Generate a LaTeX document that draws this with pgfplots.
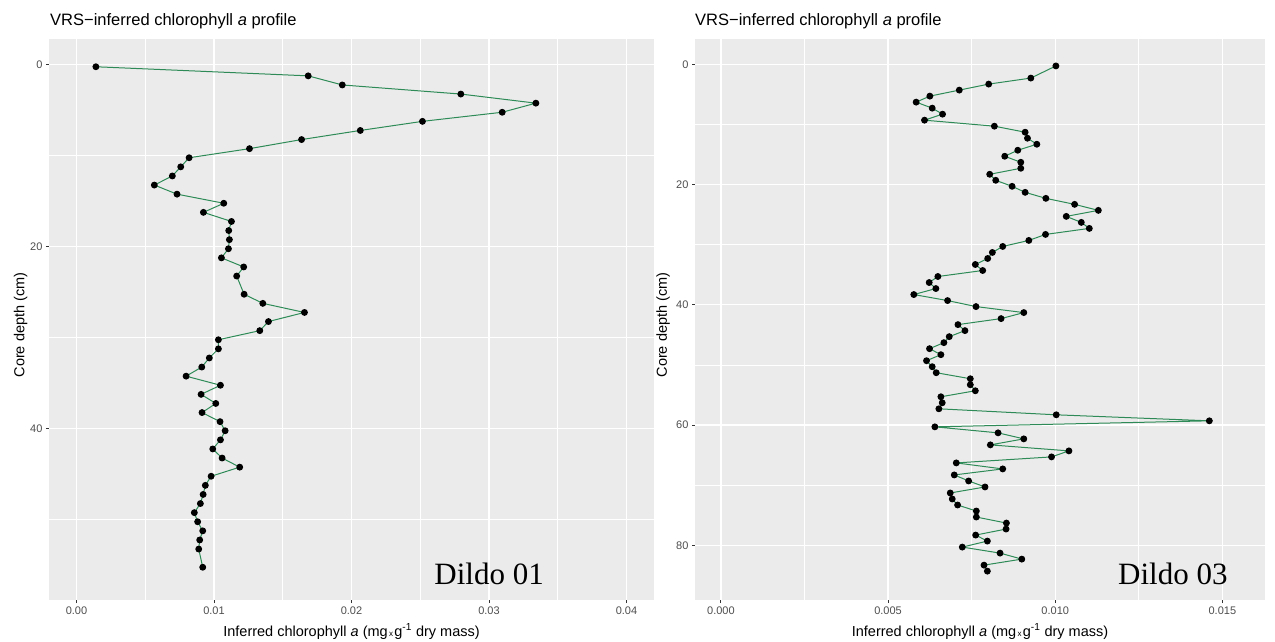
\documentclass[border=0pt]{standalone}
\usepackage{fontspec}
\setmainfont{Liberation Sans}
\newfontfamily\timesfont{Liberation Serif}
\usepackage{pgfplots}
\pgfplotsset{compat=1.18}
\usepackage{pgfplotstable}

\definecolor{ggbg}{HTML}{EBEBEB}
\definecolor{ggtext}{HTML}{4D4D4D}
\definecolor{ggtick}{HTML}{333333}
\definecolor{seagreen}{HTML}{2E8B57}

\pgfplotstableread{
x d
0.00141 0.27
0.01685 1.27
0.01933 2.27
0.02795 3.27
0.03341 4.27
0.03096 5.27
0.02516 6.27
0.02064 7.27
0.01637 8.27
0.01258 9.27
0.00819 10.27
0.00758 11.27
0.00697 12.27
0.00566 13.27
0.00731 14.27
0.01071 15.27
0.00923 16.27
0.01127 17.27
0.01107 18.27
0.01112 19.27
0.01105 20.27
0.01054 21.27
0.01216 22.27
0.01165 23.27
0.01219 25.27
0.01355 26.27
0.01658 27.27
0.01396 28.27
0.01333 29.27
0.01032 30.27
0.01032 31.27
0.00966 32.27
0.00911 33.27
0.00797 34.27
0.01047 35.27
0.00906 36.27
0.01013 37.27
0.00913 38.27
0.01044 39.27
0.01081 40.27
0.01047 41.27
0.00991 42.27
0.01059 43.27
0.01187 44.27
0.00979 45.27
0.00937 46.27
0.00921 47.27
0.00901 48.27
0.00857 49.27
0.00881 50.27
0.00918 51.27
0.00896 52.27
0.00889 53.27
0.00918 55.27
}\dildoA

\pgfplotstableread{
x d
0.01002 0.28
0.00927 2.3
0.00801 3.3
0.00713 4.3
0.00625 5.3
0.00584 6.3
0.00632 7.3
0.00663 8.3
0.00609 9.3
0.00818 10.3
0.00910 11.3
0.00917 12.3
0.00945 13.3
0.00888 14.3
0.00849 15.3
0.00897 16.3
0.00897 17.3
0.00804 18.3
0.00822 19.3
0.00871 20.3
0.00910 21.3
0.00972 22.3
0.01058 23.3
0.01129 24.3
0.01033 25.3
0.01078 26.3
0.01102 27.3
0.00971 28.3
0.00921 29.3
0.00843 30.3
0.00812 31.3
0.00798 32.3
0.00761 33.3
0.00783 34.3
0.00649 35.3
0.00623 36.3
0.00643 37.3
0.00577 38.3
0.00678 39.3
0.00763 40.3
0.00906 41.3
0.00838 42.3
0.00709 43.3
0.00730 44.3
0.00683 45.3
0.00667 46.3
0.00624 47.3
0.00658 48.3
0.00615 49.3
0.00632 50.3
0.00644 51.3
0.00746 52.3
0.00746 53.3
0.00761 54.3
0.00658 55.3
0.00662 56.3
0.00652 57.3
0.01003 58.3
0.01461 59.3
0.00640 60.3
0.00829 61.3
0.00906 62.3
0.00806 63.3
0.01041 64.3
0.00989 65.3
0.00704 66.3
0.00843 67.3
0.00698 68.3
0.00741 69.3
0.00790 70.3
0.00686 71.3
0.00692 72.3
0.00708 73.3
0.00764 74.3
0.00764 75.3
0.00854 76.3
0.00853 77.3
0.00762 78.3
0.00797 79.3
0.00722 80.3
0.00835 81.3
0.00900 82.3
0.00787 83.3
0.00797 84.3
}\dildoC

\pgfplotsset{ggstyle/.style={
  scale only axis, anchor=south west,
  height=561pt,
  y dir=reverse,
  scaled x ticks=false, scaled y ticks=false,
  axis background/.style={fill=ggbg},
  axis line style={draw=none},
  xmajorgrids, ymajorgrids, xminorgrids, yminorgrids,
  major grid style={white, line width=1.4pt},
  minor grid style={white, line width=0.7pt},
  tick align=outside,
  xtick pos=bottom, ytick pos=left,
  major tick length=3pt,
  minor tick length=0pt,
  every tick/.style={ggtick, line width=1pt},
  tick label style={font=\fontsize{11}{13}\selectfont, text=ggtext},
  clip=false,
}}

\begin{document}
\begin{tikzpicture}
\useasboundingbox (0,0) rectangle (1275pt,641pt);

\begin{axis}[ggstyle,
  at={(49pt,41pt)}, width=605pt,
  xmin=-0.002, xmax=0.042, ymin=-2.78, ymax=58.87,
  xtick={0,0.01,0.02,0.03,0.04},
  xticklabels={0.00,0.01,0.02,0.03,0.04},
  minor xtick={0.005,0.015,0.025,0.035},
  ytick={0,20,40}, yticklabels={0,20,40},
  minor ytick={10,30,50},
]
\addplot[seagreen, line width=1pt, mark=*, mark size=2.9pt,
  mark options={fill=black, draw=black, solid}] table[x=x, y=d] {\dildoA};
\node[anchor=base east, font=\timesfont\fontsize{31}{33}\selectfont, inner sep=0pt, text=black]
  at (axis cs:0.0340,57.2) {Dildo 01};
\end{axis}

\begin{axis}[ggstyle,
  at={(695pt,41pt)}, width=570pt,
  xmin=-0.000775, xmax=0.016275, ymin=-4.2, ymax=89.1,
  xtick={0,0.005,0.010,0.015},
  xticklabels={0.000,0.005,0.010,0.015},
  minor xtick={0.0025,0.0075,0.0125},
  ytick={0,20,40,60,80}, yticklabels={0,20,40,60,80},
  minor ytick={10,30,50,70},
]
\addplot[seagreen, line width=1pt, mark=*, mark size=2.9pt,
  mark options={fill=black, draw=black, solid}] table[x=x, y=d] {\dildoC};
\node[anchor=base east, font=\timesfont\fontsize{31}{33}\selectfont, inner sep=0pt, text=black]
  at (axis cs:0.01516,86.6) {Dildo 03};
\end{axis}

\node[anchor=base west, inner sep=0pt, font=\fontsize{16.5}{18}\selectfont] at (50pt,615.7pt)
  {VRS−inferred chlorophyll \textit{a} profile};
\node[anchor=base west, inner sep=0pt, font=\fontsize{16.5}{18}\selectfont] at (695pt,615.7pt)
  {VRS−inferred chlorophyll \textit{a} profile};

\node[anchor=base, inner sep=0pt, font=\fontsize{14.5}{16}\selectfont] at (351.5pt,5pt)
  {Inferred chlorophyll \textit{a} (mg{\fontsize{8}{8}\selectfont\,x\,}g\textsuperscript{-1} dry mass)};
\node[anchor=base, inner sep=0pt, font=\fontsize{14.5}{16}\selectfont] at (980pt,5pt)
  {Inferred chlorophyll \textit{a} (mg{\fontsize{8}{8}\selectfont\,x\,}g\textsuperscript{-1} dry mass)};

\node[rotate=90, anchor=center, inner sep=0pt, font=\fontsize{14.5}{16}\selectfont] at (20.7pt,316pt)
  {Core depth (cm)};
\node[rotate=90, anchor=center, inner sep=0pt, font=\fontsize{14.5}{16}\selectfont] at (663pt,316pt)
  {Core depth (cm)};
\end{tikzpicture}
\end{document}
